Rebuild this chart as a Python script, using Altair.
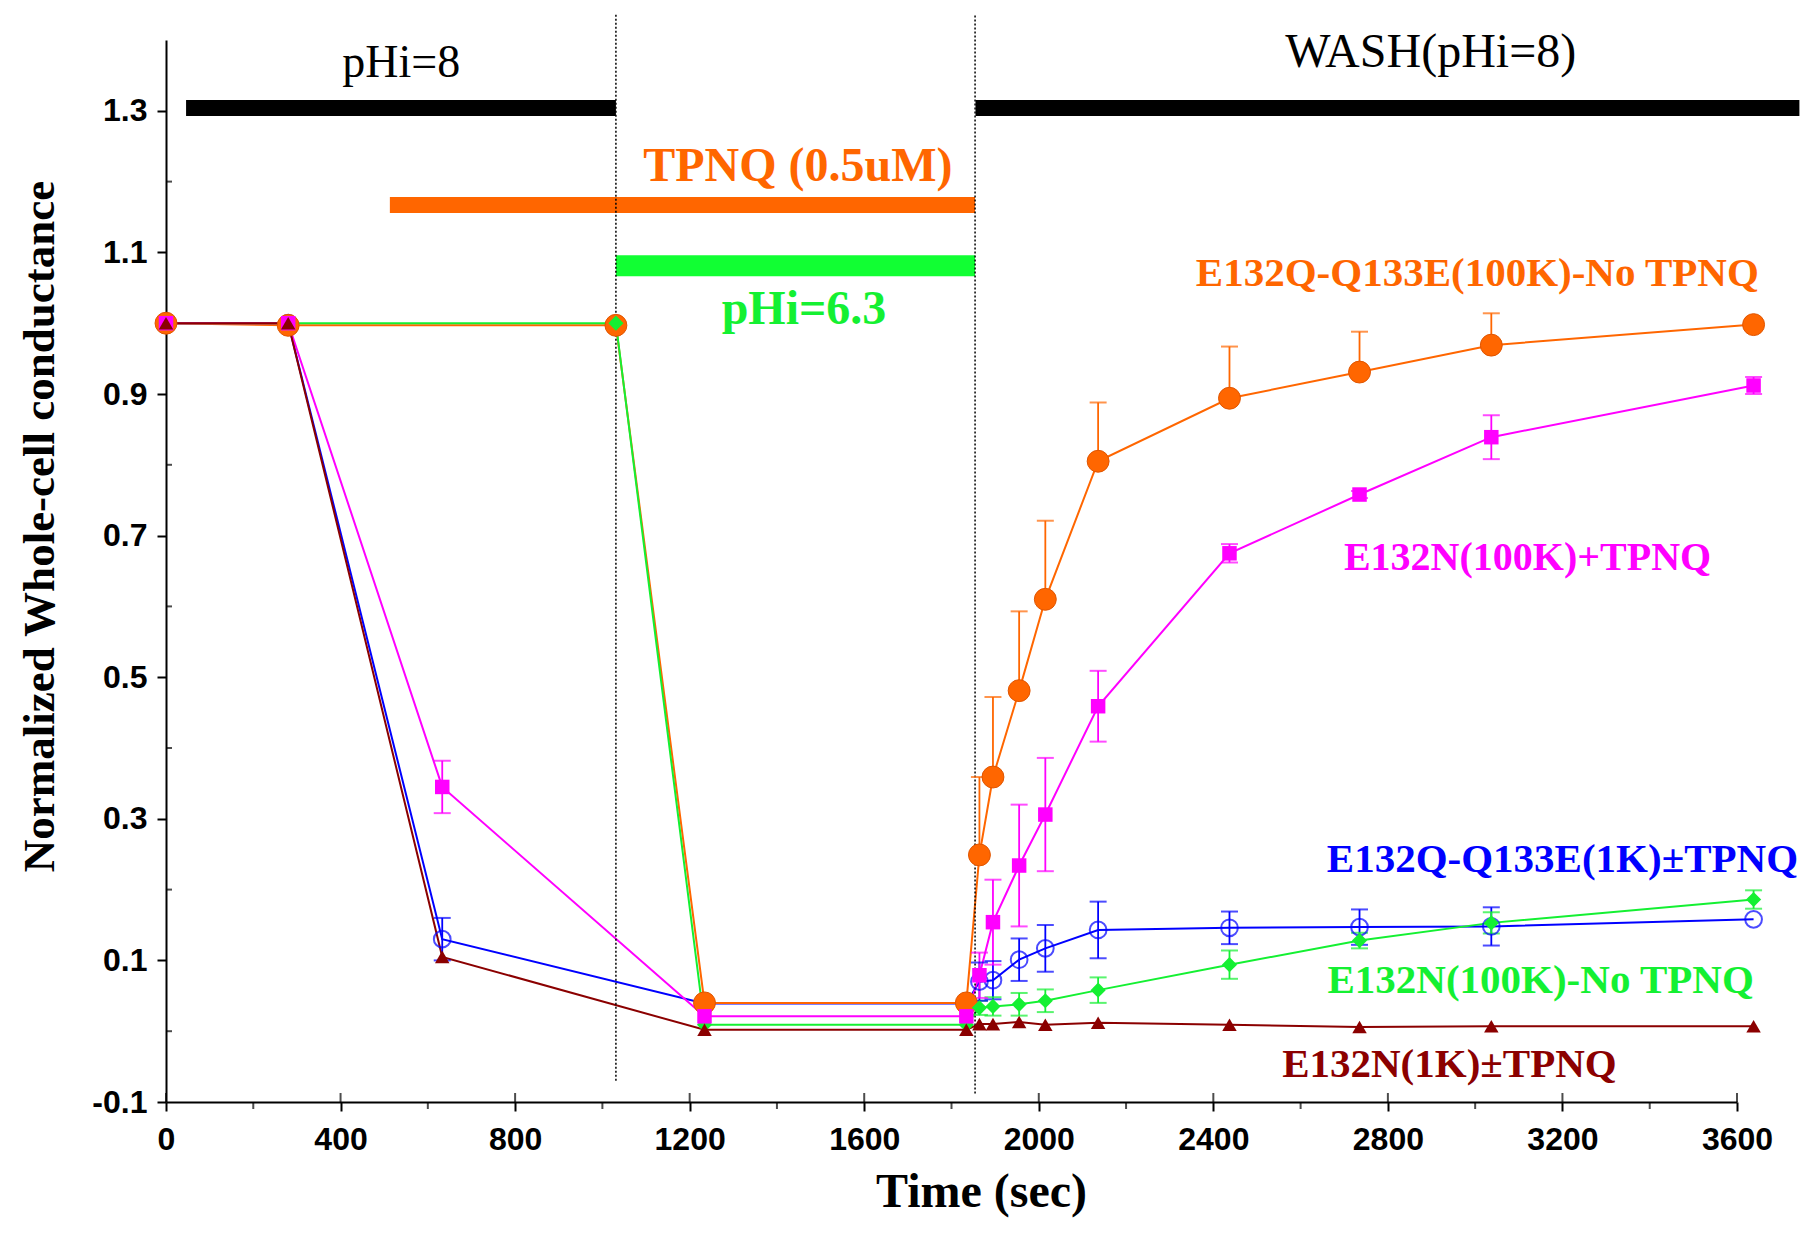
import altair as alt
import pandas as pd

# ---------------- data ----------------
series_names = ["E132Q-Q133E(1K)±TPNQ", "E132Q-Q133E(100K)-No TPNQ",
                "E132N(100K)-No TPNQ", "E132N(100K)+TPNQ", "E132N(1K)±TPNQ"]

# time points (sec)
time_early = [0, 280, 633, 1234, 1834, 1864, 1895, 1955, 2015, 2136, 2437, 2735, 3037, 3638]
time_late = [0, 280, 1031, 1234, 1834, 1864, 1895, 1955, 2015, 2136, 2437, 2735, 3037, 3638]

blue_vals = [1.0, 1.0, 0.130, 0.039, 0.039, 0.070, 0.072, 0.101, 0.117, 0.143, 0.146, 0.147, 0.148, 0.158]
blue_err = [0, 0, 0.030, 0, 0, 0.027, 0.027, 0.030, 0.033, 0.040, 0.023, 0.025, 0.027, 0]

orange_vals = [1.0, 0.997, 0.997, 0.040, 0.040, 0.249, 0.359, 0.481, 0.610, 0.805, 0.894, 0.931, 0.969, 0.998]
orange_err = [0, 0, 0, 0, 0, 0.110, 0.113, 0.112, 0.111, 0.083, 0.073, 0.057, 0.045, 0]

green_vals = [1.0, 1.0, 1.0, 0.009, 0.009, 0.033, 0.035, 0.038, 0.043, 0.058, 0.094, 0.128, 0.153, 0.186]
green_err = [0, 0, 0, 0, 0, 0.010, 0.013, 0.016, 0.016, 0.018, 0.020, 0.011, 0.015, 0.013]

magenta_vals = [1.0, 1.0, 0.345, 0.021, 0.021, 0.079, 0.154, 0.234, 0.306, 0.459, 0.675, 0.758, 0.839, 0.912]
magenta_err = [0, 0, 0.037, 0, 0, 0.032, 0.060, 0.086, 0.080, 0.050, 0.013, 0.005, 0.031, 0.012]

red_vals = [1.0, 1.0, 0.105, 0.002, 0.002, 0.010, 0.010, 0.013, 0.009, 0.012, 0.009, 0.006, 0.007, 0.007]

x_ticks = [0, 400, 800, 1200, 1600, 2000, 2400, 2800, 3200, 3600]
x_minor = [200, 600, 1000, 1400, 1800, 2200, 2600, 3000, 3400]
y_ticks = [-0.1, 0.1, 0.3, 0.5, 0.7, 0.9, 1.1, 1.3]
y_minor = [0.0, 0.2, 0.4, 0.6, 0.8, 1.0, 1.2]

# protocol bars: (start, end, level)
bar_ph8 = (46, 1031, 1.304)
bar_wash = (1855, 3743, 1.304)
bar_tpnq = (513, 1854, 1.167)
bar_ph63 = (1031, 1854, 1.081)
dotted_x = [1031, 1854]
dotted_top = [1.438, 1.435]
dotted_bottom = [-0.070, -0.088]

# ---------------- styles ----------------
COL = {
    "E132Q-Q133E(1K)±TPNQ": "#0000FF",
    "E132Q-Q133E(100K)-No TPNQ": "#FF6600",
    "E132N(100K)-No TPNQ": "#14F032",
    "E132N(100K)+TPNQ": "#FF00FF",
    "E132N(1K)±TPNQ": "#8B0000",
}
ERR_MODE = {
    "E132Q-Q133E(1K)±TPNQ": "both",
    "E132Q-Q133E(100K)-No TPNQ": "up",
    "E132N(100K)-No TPNQ": "both",
    "E132N(100K)+TPNQ": "both",
    "E132N(1K)±TPNQ": "none",
}

series_data = {
    "E132Q-Q133E(1K)±TPNQ": (time_early, blue_vals, blue_err),
    "E132Q-Q133E(100K)-No TPNQ": (time_late, orange_vals, orange_err),
    "E132N(100K)-No TPNQ": (time_late, green_vals, green_err),
    "E132N(100K)+TPNQ": (time_early, magenta_vals, magenta_err),
    "E132N(1K)±TPNQ": (time_early, red_vals, [0] * len(red_vals)),
}

rows = []
for name in series_names:
    t, v, e = series_data[name]
    for i, (ti, vi, ei) in enumerate(zip(t, v, e)):
        mode = ERR_MODE[name]
        lo = vi - ei if mode == "both" else vi
        hi = vi + ei
        rows.append(dict(series=name, time=ti, value=vi, err=ei, lo=lo, hi=hi,
                         both=(mode == "both"), idx=i, color=COL[name]))
df = pd.DataFrame(rows)
err_df = df[df["err"] > 0]
err_lo_df = err_df[err_df["both"]]

XT = "Time (sec)"
YT = "Normalized Whole-cell conductance"
xs = alt.Scale(domain=[0, 3600], nice=False, zero=False)
ys = alt.Scale(domain=[-0.1, 1.4], nice=False, zero=False)

X = lambda f: alt.X(f, type="quantitative", scale=xs, title=XT)
Y = lambda f: alt.Y(f, type="quantitative", scale=ys, title=YT)

# main lines (carry the axes)
lines = alt.Chart(df).mark_line(strokeWidth=2).encode(
    x=alt.X("time:Q", scale=xs, title=XT, axis=alt.Axis(
        values=x_ticks, format="d", title=XT, grid=False,
        domainColor="black", domainWidth=2, tickColor="black", tickWidth=2, tickSize=9,
        labelFont="Liberation Sans", labelFontWeight="bold", labelFontSize=32,
        labelColor="black", labelPadding=13, labelFlush=False,
        titleFont="Liberation Serif", titleFontWeight="bold", titleFontSize=48,
        titleColor="black", titleX=815, titleY=104, titleAlign="center",
        titleBaseline="alphabetic", titleAnchor="start")),
    y=alt.Y("value:Q", scale=ys, title=YT, axis=alt.Axis(
        values=y_ticks, title=YT, grid=False,
        labelExpr="datum.value < 0 ? '-' + format(-datum.value, '.1f') : format(datum.value, '.1f')",
        domainColor="black", domainWidth=2, tickColor="black", tickWidth=2, tickSize=9,
        labelFont="Liberation Sans", labelFontWeight="bold", labelFontSize=32,
        labelColor="black", labelPadding=10,
        titleFont="Liberation Serif", titleFontWeight="bold", titleFontSize=45,
        titleColor="black", titleX=-113, titleY=486, titleAngle=270, titleAlign="center",
        titleBaseline="alphabetic", titleAnchor="start")),
    color=alt.Color("color:N", scale=None),
    detail="series:N",
    order="idx:Q",
)

# error bars
err_rules = alt.Chart(err_df).mark_rule(strokeWidth=1.8).encode(
    x=X("time"), y=Y("lo"), y2="hi", color=alt.Color("color:N", scale=None))
err_caps_hi = alt.Chart(err_df).mark_tick(orient="horizontal", size=17, thickness=2).encode(
    x=X("time"), y=Y("hi"), color=alt.Color("color:N", scale=None))
err_caps_lo = alt.Chart(err_lo_df).mark_tick(orient="horizontal", size=17, thickness=2).encode(
    x=X("time"), y=Y("lo"), color=alt.Color("color:N", scale=None))

def pts(name, **kw):
    return alt.Chart(df[df["series"] == name]).mark_point(**kw).encode(
        x=X("time"), y=Y("value"))

p_blue = pts(series_names[0], shape="circle", filled=False, size=280, strokeWidth=2, color=COL[series_names[0]])
p_orange = pts(series_names[1], shape="circle", filled=True, size=480, opacity=1,
               color=COL[series_names[1]], stroke="#E05500", strokeWidth=1)
p_green = pts(series_names[2], shape="diamond", filled=True, size=230, opacity=1, color=COL[series_names[2]])
p_mag = pts(series_names[3], shape="square", filled=True, size=210, opacity=1, color=COL[series_names[3]])
p_red = pts(series_names[4], shape="triangle-up", filled=True, size=210, opacity=1, color=COL[series_names[4]])

# protocol bars
bars_df = pd.DataFrame([
    dict(x=bar_ph8[0], x2=bar_ph8[1], y=bar_ph8[2], c="#000000", w=16),
    dict(x=bar_wash[0], x2=bar_wash[1], y=bar_wash[2], c="#000000", w=16),
    dict(x=bar_tpnq[0], x2=bar_tpnq[1], y=bar_tpnq[2], c="#FF6600", w=16),
    dict(x=bar_ph63[0], x2=bar_ph63[1], y=bar_ph63[2], c="#11FF33", w=21),
])
bars = alt.Chart(bars_df).mark_rule(strokeCap="butt").encode(
    x=X("x"), x2="x2", y=Y("y"),
    color=alt.Color("c:N", scale=None), strokeWidth=alt.StrokeWidth("w:Q", scale=None))

dot_df = pd.DataFrame(dict(x=dotted_x, top=dotted_top, bot=dotted_bottom))
dots = alt.Chart(dot_df).mark_rule(strokeDash=[2, 2], strokeWidth=1.5, color="black").encode(
    x=X("x"), y=Y("bot"), y2="top")

# extra tick marks
xt_in = alt.Chart(pd.DataFrame(dict(x=x_ticks, y=[-0.1] * len(x_ticks)))).mark_tick(
    orient="vertical", size=9, thickness=2, yOffset=-4.5, color="black").encode(x=X("x"), y=Y("y"))
xt_minor = alt.Chart(pd.DataFrame(dict(x=x_minor, y=[-0.1] * len(x_minor)))).mark_tick(
    orient="vertical", size=7, thickness=2, yOffset=3.5, color="black").encode(x=X("x"), y=Y("y"))
yt_minor = alt.Chart(pd.DataFrame(dict(x=[0] * len(y_minor), y=y_minor))).mark_tick(
    orient="horizontal", size=6, thickness=2, xOffset=3, color="black").encode(x=X("x"), y=Y("y"))

# annotations
plain_txt = pd.DataFrame([
    dict(t="pHi=8", x=539, y=1.348, c="#000000", s=46),
    dict(t="WASH(pHi=8)", x=2898, y=1.362, c="#000000", s=48),
])
bold_txt = pd.DataFrame([
    dict(t="TPNQ (0.5uM)", x=1448, y=1.201, c="#FF6600", s=48),
    dict(t="pHi=6.3", x=1462, y=0.999, c="#14F032", s=48),
    dict(t="E132Q-Q133E(100K)-No TPNQ", x=3005, y=1.053, c="#FF6600", s=41),
    dict(t="E132N(100K)+TPNQ", x=3120, y=0.651, c="#FF00FF", s=40),
    dict(t="E132Q-Q133E(1K)±TPNQ", x=3200, y=0.225, c="#0000FF", s=41),
    dict(t="E132N(100K)-No TPNQ", x=3150, y=0.054, c="#14F032", s=41),
    dict(t="E132N(1K)±TPNQ", x=2941, y=-0.065, c="#8B0000", s=41),
])
t_plain = alt.Chart(plain_txt).mark_text(font="Liberation Serif", align="center", baseline="alphabetic").encode(
    x=X("x"), y=Y("y"), text="t:N", color=alt.Color("c:N", scale=None), size=alt.Size("s:Q", scale=None))
t_bold = alt.Chart(bold_txt).mark_text(font="Liberation Serif", fontWeight="bold", align="center",
                                       baseline="alphabetic").encode(
    x=X("x"), y=Y("y"), text="t:N", color=alt.Color("c:N", scale=None), size=alt.Size("s:Q", scale=None))

chart = alt.layer(
    lines, bars, dots, xt_in, xt_minor, yt_minor,
    err_rules, err_caps_hi, err_caps_lo,
    p_blue, p_orange, p_green, p_mag, p_red,
    t_plain, t_bold,
).properties(
    width=1571, height=1062,
    autosize=alt.AutoSizeParams(type="none"),
    padding={"left": 158, "top": 32, "right": 70, "bottom": 116},
).configure(background="white").configure_view(stroke=None)

chart.save("out.html", embed_options={"renderer": "svg", "actions": False})
